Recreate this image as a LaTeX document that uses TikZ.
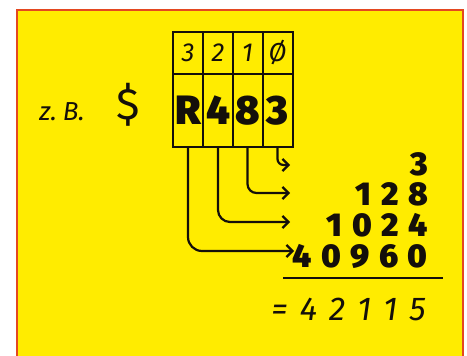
\documentclass[tikz,border=0pt]{standalone}
\usepackage{fontspec}
\setmainfont{Fira Sans}
\newfontfamily\heavyfont{Fira Sans Black}
\usetikzlibrary{arrows.meta}
\definecolor{bgyellow}{RGB}{255,236,0}
\definecolor{framered}{RGB}{228,72,32}
\definecolor{ink}{RGB}{20,15,10}
\begin{document}
\begin{tikzpicture}[x=1pt,y=-1pt,
  cell/.style={draw=ink, line width=2pt, inner sep=0pt, minimum width=30pt, text=ink},
  headcell/.style={cell, minimum height=42pt, font=\fontsize{26}{26}\selectfont\itshape},
  valcell/.style={cell, minimum height=73pt, font=\fontsize{41}{41}\selectfont\heavyfont},
  conn/.style={draw=ink, line width=2.2pt, rounded corners=12pt, -{Straight Barb[length=6pt,width=12pt,line width=2.2pt]}},
  bignum/.style={anchor=east, inner sep=0pt, text=ink, font=\fontsize{33}{33}\selectfont\heavyfont},
  hand/.style={inner sep=0pt, text=ink, font=\fontsize{33}{33}\selectfont\itshape}
]
\useasboundingbox (0,0) rectangle (467,356);
\fill[white] (0,0) rectangle (467,356);
\filldraw[fill=bgyellow, draw=framered, line width=2pt] (17,10) rectangle (463,360);

% table
\node[headcell] (h3) at (188,53) {3};
\node[headcell] (h2) at (218,53) {2};
\node[headcell] (h1) at (247.5,53) {1};
\node[headcell] (h0) at (277.5,53) {Ø};
\node[valcell] (vR) at (188,110.5) {R};
\node[valcell] (v4) at (218,110.5) {4};
\node[valcell] (v8) at (247.5,110.5) {8};
\node[valcell] (v3) at (277.5,110.5) {3};

% left labels
\node[hand, font=\fontsize{26}{26}\selectfont\itshape] (zb) at (62,112) {z.\hspace{6pt}B.};
\node[hand, font=\fontsize{44}{44}\selectfont] (dollar) at (128,105) {\$};

% numbers
\node[bignum] (n0) at (428,164) {3};
\node[bignum] (n1) at (428,194) {1\hspace{9.5pt}2\hspace{9.5pt}8};
\node[bignum] (n2) at (428,225) {1\hspace{9.5pt}0\hspace{9.5pt}2\hspace{9.5pt}4};
\node[bignum] (n3) at (428,256) {4\hspace{9.5pt}0\hspace{9.5pt}9\hspace{9.5pt}6\hspace{9.5pt}0};

% arrow tips
\coordinate (a0) at (290,165);
\coordinate (a1) at (290,193);
\coordinate (a2) at (290,222);
\coordinate (a3) at (294,251);

\draw[conn, rounded corners=6pt] (v3.south) |- (a0);
\draw[conn, rounded corners=9pt] (v8.south) |- (a1);
\draw[conn] (v4.south) |- (a2);
\draw[conn, rounded corners=14pt] (vR.south) |- (a3);

% sum line and result
\coordinate (l0) at (283,278);
\coordinate (l1) at (443,278);
\draw[draw=ink, line width=2.5pt] (l0) -- (l1);
\node[hand, anchor=east] (res) at (426,309) {=\hspace{12pt}4\hspace{12pt}2\hspace{12pt}1\hspace{12pt}1\hspace{12pt}5};
\end{tikzpicture}
\end{document}
